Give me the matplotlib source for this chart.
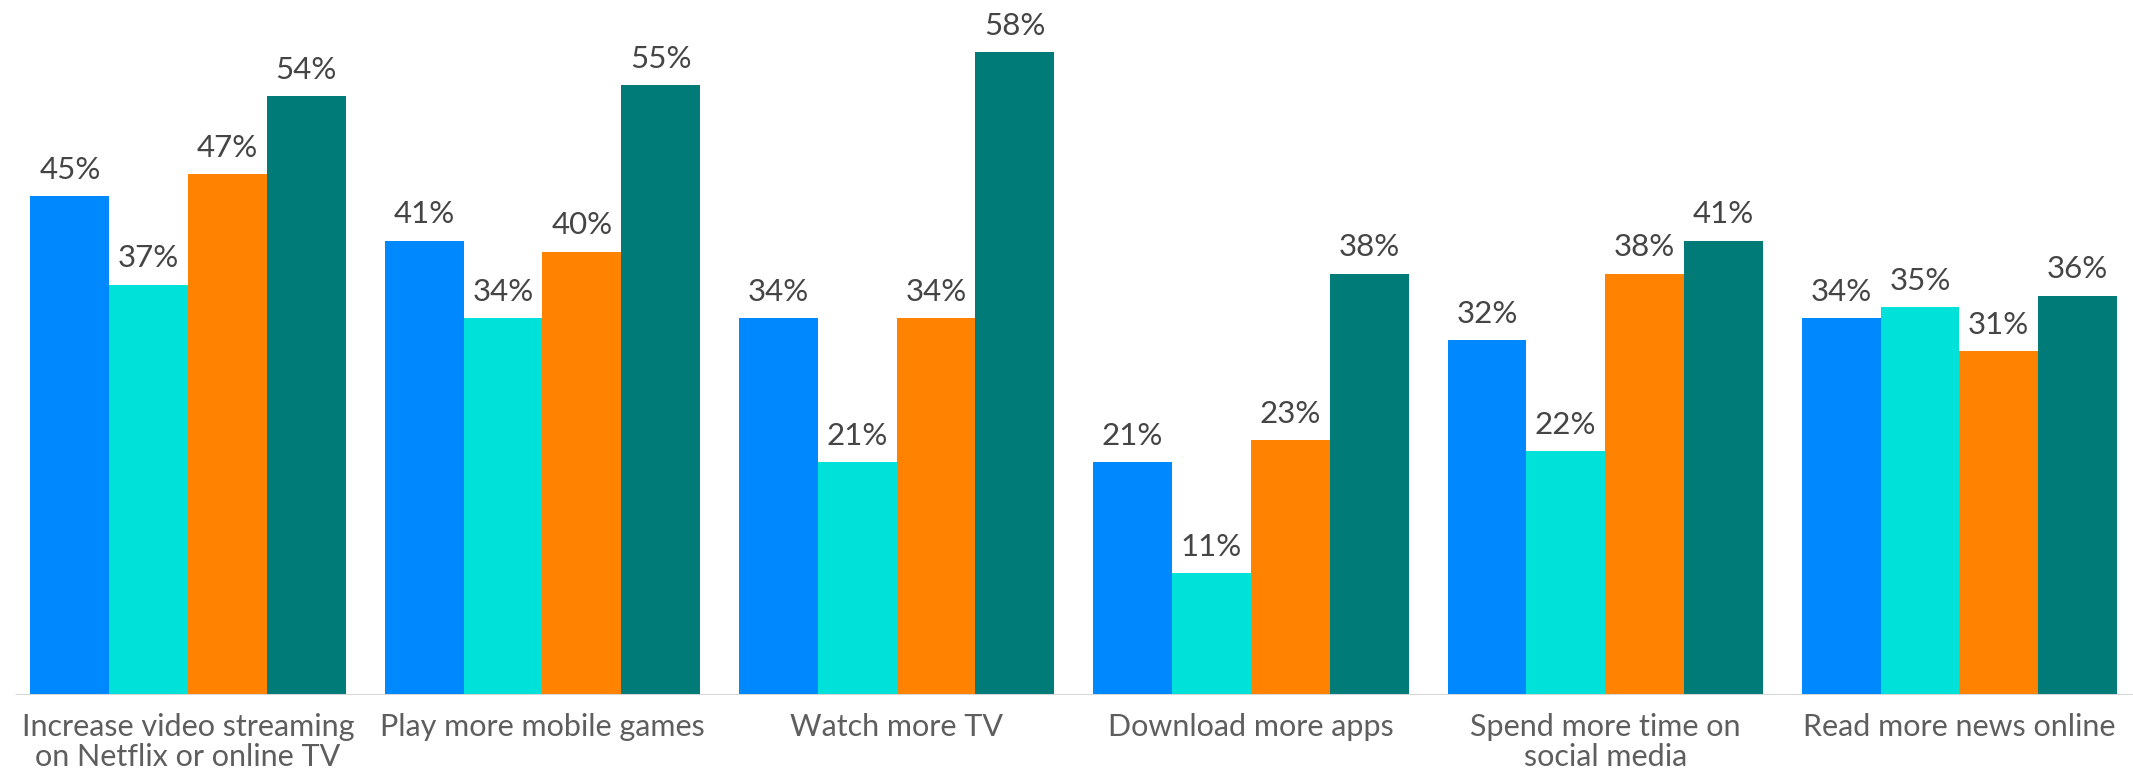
import numpy as np
import matplotlib.pyplot as plt

categories = ["Increase video streaming\non Netflix or online TV",
              "Play more mobile games",
              "Watch more TV",
              "Download more apps",
              "Spend more time on\nsocial media",
              "Read more news online"]
series_a = [45, 41, 34, 21, 32, 34]
series_b = [37, 34, 21, 11, 22, 35]
series_c = [47, 40, 34, 23, 38, 31]
series_d = [54, 55, 58, 38, 41, 36]

colors = ["#0088FF", "#00E2D9", "#FF8200", "#007B78"]
all_series = [series_a, series_b, series_c, series_d]

plt.rcParams['font.family'] = ['Lato', 'DejaVu Sans']

fig = plt.figure(figsize=(21.33, 7.74), dpi=100)
ax = fig.add_axes([0, 0.102, 1, 0.898])

x = np.arange(len(categories))
w = 0.2225
for i, (vals, c) in enumerate(zip(all_series, colors)):
    pos = x + (i - 1.5) * w
    bars = ax.bar(pos, vals, width=w, color=c, linewidth=0, zorder=2)
    for b, v in zip(bars, vals):
        ax.annotate(f"{v}%", (b.get_x() + b.get_width() / 2, v),
                    xytext=(0, 9), textcoords="offset points",
                    ha="center", va="bottom", fontsize=22.5, color="#454545")

ax.set_xlim(-0.531, 5.49)
ax.set_ylim(0, 62.7)
ax.hlines(0, -0.49, 5.49, color="#d6d6d6", linewidth=2.2, zorder=3)

for xi, label in zip(x, categories):
    ax.annotate(label, (xi, 0), xytext=(0, -13), textcoords="offset points",
                ha="center", va="top", fontsize=22, color="#5e5e5e",
                linespacing=1.08, annotation_clip=False)

ax.axis("off")
fig.savefig("out.png", dpi=100)
